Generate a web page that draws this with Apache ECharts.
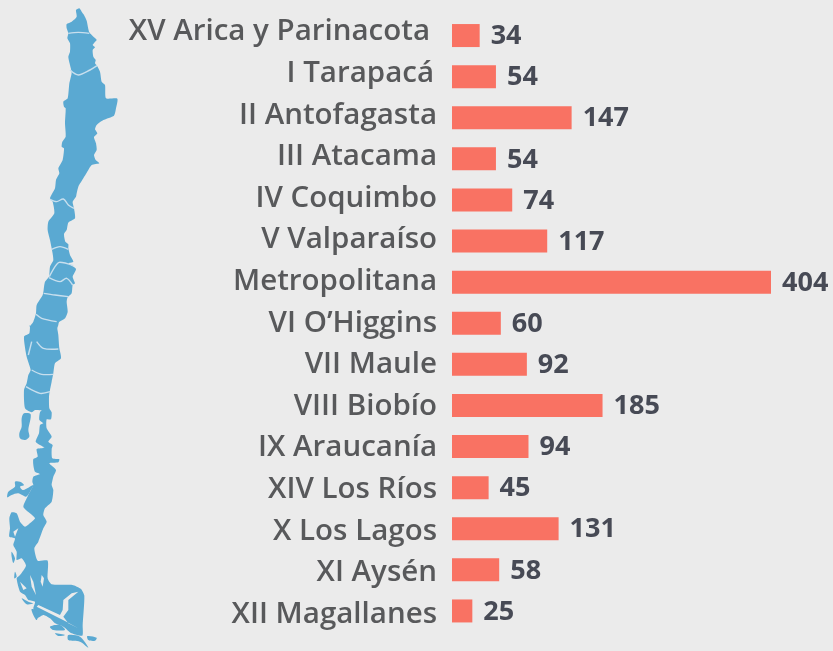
<!DOCTYPE html>
<html><head><meta charset="utf-8">
<script src="https://cdn.jsdelivr.net/npm/echarts@6/dist/echarts.min.js"></script>
<style>html,body{margin:0;padding:0;background:#ebebeb}#c{width:833px;height:651px}</style>
</head><body><div id="c"></div>
<script>
const categories = ["XV Arica y Parinacota","I Tarapacá","II Antofagasta","III Atacama","IV Coquimbo","V Valparaíso","Metropolitana","VI O’Higgins","VII Maule","VIII Biobío","IX Araucanía","XIV Los Ríos","X Los Lagos","XI Aysén","XII Magallanes"];
const values = [34,54,147,54,74,117,404,60,92,185,94,45,131,58,25];

// Decorative map outline, traced in 3x reference units; S offsets the southern half
const S = 975;
const mapBody = [[238,25],[245,35],[252,45],[260,62],[268,97],[282,112],[290,120],[283,128],[278,135],[285,142],[278,150],[280,170],[287,180],[285,190],[291,197],[300,215],[305,245],[315,255],[318,295],[352,296],[348,325],[342,347],[310,360],[290,375],[285,388],[292,400],[282,412],[288,430],[290,450],[282,465],[287,480],[298,490],[275,495],[265,510],[250,535],[235,560],[230,580],[228,590],[218,605],[222,625],[225,655],[205,668],[200,690],[192,702],[196,725],[205,733],[205,745],[210,765],[220,785],[205,790],[228,807],[218,830],[225,850],[218,855],[215,880],[203,892],[200,905],[203,935],[195,955],[177,967],[175,S],[172,S+10],[175,S+30],[178,S+70],[183,S+100],[165,S+115],[160,S+145],[155,S+170],[150,S+195],[147,S+215],[148,S+250],[155,S+262],[153,S+283],[140,S+283],[140,S+310],[155,S+335],[145,S+350],[158,S+360],[155,S+372],[157,S+400],[178,S+403],[175,S+412],[148,S+415],[168,S+435],[160,S+455],[155,S+480],[160,S+495],[155,S+530],[135,S+550],[130,S+570],[140,S+590],[130,S+610],[115,S+650],[103,S+670],[113,S+707],[143,S+707],[143,S+760],[155,S+778],[217,S+780],[243,S+792],[253,S+812],[248,S+900],[247,S+932],[215,S+925],[190,S+905],[165,S+895],[150,S+880],[130,S+870],[110,S+880],[100,S+850],[105,S+830],[85,S+825],[75,S+810],[60,S+800],[50,S+760],[60,S+750],[78,S+722],[65,S+700],[50,S+705],[50,S+680],[40,S+660],[45,S+640],[28,S+635],[30,S+610],[28,S+580],[35,S+562],[50,S+565],[60,S+590],[75,S+605],[90,S+595],[105,S+580],[90,S+565],[70,S+545],[85,S+510],[100,S+480],[97,S+470],[100,S+455],[120,S+447],[105,S+440],[100,S+420],[100,S+402],[113,S+395],[110,S+372],[133,S+368],[120,S+360],[107,S+350],[117,S+325],[120,S+300],[130,S+295],[118,S+285],[120,S+262],[133,S+245],[125,S+255],[105,S+255],[95,S+262],[75,S+250],[72,S+195],[80,S+175],[85,S+150],[92,S+135],[80,S+95],[72,S+35],[88,S+25],[90,S],[88,980],[100,965],[108,940],[110,915],[128,885],[131,870],[135,845],[147,830],[150,800],[160,780],[155,745],[150,720],[143,690],[145,665],[163,640],[158,605],[150,595],[165,565],[168,540],[178,520],[175,505],[188,480],[192,445],[185,440],[187,425],[197,410],[195,370],[197,325],[192,320],[190,305],[203,295],[208,250],[215,218],[210,195],[205,170],[210,155],[210,130],[202,115],[205,100],[200,85],[200,72],[215,65],[230,50],[228,30]];
const mapIslands = [
 [[72,S+265],[92,S+268],[85,S+315],[88,S+335],[75,S+345],[60,S+340],[58,S+325],[65,S+305],[65,S+280]],
 [[100,S+480],[90,S+500],[78,S+515],[55,S+505],[35,S+510],[22,S+517],[25,S+500],[45,S+485],[45,S+470],[60,S+470],[72,S+480],[60,S+485],[70,S+495]],
 [[150,S+905],[180,S+900],[195,S+915],[160,S+915]],
 [[165,S+925],[195,S+930],[175,S+933]],
 [[205,S+930],[240,S+935],[265,S+968],[240,S+950],[205,S+945]],
 [[262,S+933],[290,S+938],[285,S+947],[265,S+945]],
 [[65,S+820],[85,S+830],[100,S+835],[80,S+838]],
 [[95,S+852],[115,S+860],[110,S+885],[100,S+870]],
 [[35,S+680],[45,S+700],[40,S+714],[35,S+695]],
 [[45,S+740],[50,S+755],[43,S+760]]
];
const mapCuts = [
 [[188,S+855],[190,S+825],[215,S+805],[235,S+800],[205,S+825],[205,S+855],[190,S+875],[205,S+895],[235,S+910],[195,S+888],[110,S+845],[115,S+840],[180,S+870]],
 [[125,S+750],[132,S+760],[128,S+785],[122,S+770]],
 [[90,S+750],[100,S+770],[108,S+810],[95,S+785]],
 [[40,S+620],[55,S+610],[45,S+635]],
 [[60,S+770],[80,S+790],[70,S+795]]
];
const mapBorders = [
 [[205,100],[235,97],[268,100]],
 [[210,210],[235,225],[270,210],[291,197]],
 [[150,598],[170,605],[190,597],[205,615],[222,625]],
 [[155,748],[180,740],[205,748]],
 [[148,830],[165,800],[178,787],[220,797]],
 [[147,833],[180,845],[200,835],[218,855]],
 [[131,880],[165,885],[205,890]],
 [[108,943],[125,955],[170,965]],
 [[95,S+50],[85,S+90]],
 [[110,S+50],[130,S+70],[175,S+72]],
 [[95,S+135],[125,S+148],[160,S+148]],
 [[78,S+185],[120,S+205],[150,S+200]]
];
const sc = a => a.map(p => [p[0]/3, p[1]/3]);
const BLUE = '#5aa9d2', BG = '#ebebeb';
const graphic = [];
graphic.push({type:'polygon',shape:{points:sc(mapBody),smooth:0.2},style:{fill:BLUE}});
mapIslands.forEach(p=>graphic.push({type:'polygon',shape:{points:sc(p),smooth:0.3},style:{fill:BLUE}}));
mapCuts.forEach(p=>graphic.push({type:'polygon',shape:{points:sc(p)},style:{fill:BG}}));
mapBorders.forEach(p=>graphic.push({type:'polyline',shape:{points:sc(p),smooth:0.3},style:{stroke:'#c8dfee',fill:null,lineWidth:1.4}}));

// Labels drift slightly against the bars in the reference: above them at the top, level at the bottom
const labelFont = {fontFamily:'Open Sans',fontSize:29.5,fontWeight:600,color:'#58595b'};
const rich = {};
categories.forEach((c,i)=>{
  const up = 7 - i;            // vertical nudge, in padding px
  const right = i===0 ? 7 : i===1 ? 3 : 0;
  rich['r'+i] = {...labelFont,padding:[up<0?-up:0,right,up>0?up:0,0]};
});
const chart = echarts.init(document.getElementById('c'));
chart.setOption({
  backgroundColor: BG,
  animation:false,
  grid:{left:452,top:15,width:319,height:616.5},
  // The reference's longest bar is cut short of its scale: the axis ends before 404 and clips it
  xAxis:{type:'value',min:0,max:392,show:false},
  yAxis:{type:'category',inverse:true,data:categories,
    axisLine:{show:false},axisTick:{show:false},
    axisLabel:{margin:15,formatter:(v,i)=>`{r${i}|${v}}`,rich}},
  series:[{type:'bar',data:values,barWidth:23,
    itemStyle:{color:'#f97263'},
    label:{show:true,position:'right',distance:11,fontFamily:'Open Sans',fontWeight:'bold',fontSize:27,color:'#474a55',offset:[0,1]}}],
  graphic:graphic
});
</script></body></html>
